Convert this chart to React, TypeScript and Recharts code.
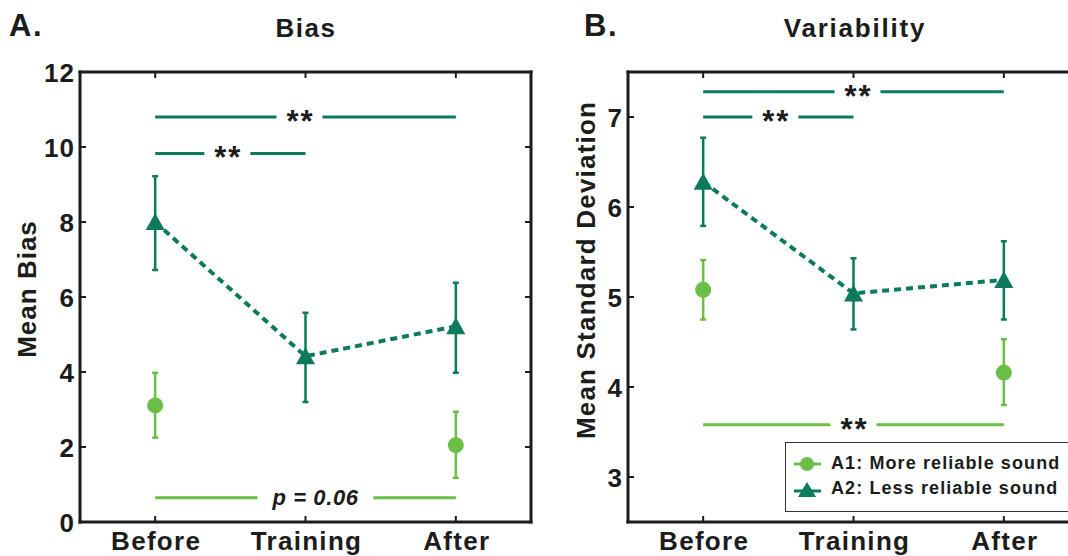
import { LineChart, Line, XAxis, YAxis, ErrorBar, ReferenceLine, Legend } from 'recharts'

const FONT = '"Liberation Sans", Arial, Helvetica, sans-serif'
const DARK = '#0b7a5d'
const LIGHT = '#6bbf46'
const INK = '#1c1c1c'

const phases = ['Before', 'Training', 'After']
const phaseX = [1, 2, 3]

// A. Bias
const biasA2 = [8.0, 4.42, 5.22]
const biasA2Lo = [6.72, 3.2, 3.98]
const biasA2Hi = [9.22, 5.58, 6.38]
const biasA1X = [1, 3]
const biasA1 = [3.11, 2.05]
const biasA1Lo = [2.25, 1.18]
const biasA1Hi = [3.98, 2.94]
const biasTicks = [0, 2, 4, 6, 8, 10, 12]
const biasMarks = [
  { from: 1, to: 3, y: 10.8, text: '**', group: 'A2' },
  { from: 1, to: 2, y: 9.83, text: '**', group: 'A2' },
  { from: 1, to: 3, y: 0.65, text: 'p = 0.06', group: 'A1' },
]

// B. Variability
const sdA2 = [6.28, 5.04, 5.19]
const sdA2Lo = [5.79, 4.64, 4.75]
const sdA2Hi = [6.77, 5.43, 5.62]
const sdA1X = [1, 3]
const sdA1 = [5.08, 4.16]
const sdA1Lo = [4.75, 3.8]
const sdA1Hi = [5.41, 4.53]
const sdTicks = [3, 4, 5, 6, 7]
const sdMarks = [
  { from: 1, to: 3, y: 7.28, text: '**', group: 'A2' },
  { from: 1, to: 2, y: 7.0, text: '**', group: 'A2' },
  { from: 1, to: 3, y: 3.58, text: '**', group: 'A1' },
]

const seriesNames = ['A1: More reliable sound', 'A2: Less reliable sound']

// little nudges so the gap sits where the original has it
const biasGapShift = [-6, -3, 10]
const sdGapShift = [4, -3, 0]

function rows(xs: number[], v: number[], lo: number[], hi: number[]) {
  return xs.map((x, i) => ({ x, v: v[i], err: [v[i] - lo[i], hi[i] - v[i]] }))
}

const txt = { fontFamily: FONT, fontWeight: 700, fill: INK } as const

function Tri(props: any) {
  const { cx, cy } = props
  if (cx == null || cy == null) return null
  return <polygon points={`${cx},${cy - 9} ${cx - 9.5},${cy + 8} ${cx + 9.5},${cy + 8}`} fill={DARK} />
}

function Dot(props: any) {
  const { cx, cy } = props
  if (cx == null || cy == null) return null
  return <circle cx={cx} cy={cy} r={8} fill={LIGHT} />
}

function XTick({ x, y, payload }: any) {
  return (
    <g>
      <line x1={x} y1={y} x2={x} y2={y - 6} stroke={INK} strokeWidth={2} />
      <text x={x + 1} y={y + 28} textAnchor="middle" fontSize={26} letterSpacing={1.3} {...txt}>
        {phases[payload.value - 1]}
      </text>
    </g>
  )
}

function TopTick({ x, y }: any) {
  return <line x1={x} y1={y} x2={x} y2={y + 6} stroke={INK} strokeWidth={2} />
}

function YTick({ x, y, payload }: any) {
  return (
    <g>
      <line x1={x} y1={y} x2={x + 6} y2={y} stroke={INK} strokeWidth={2} />
      <text x={x - 5} y={y + 9.5} textAnchor="end" fontSize={26} letterSpacing={1} {...txt}>
        {payload.value}
      </text>
    </g>
  )
}

function RightTick({ x, y }: any) {
  return <line x1={x} y1={y} x2={x - 6} y2={y} stroke={INK} strokeWidth={2} />
}

function GapLabel(props: any) {
  const { viewBox, text, shift = 0 } = props
  if (!viewBox) return null
  const cx = viewBox.x + viewBox.width / 2 + shift
  const cy = viewBox.y
  const star = text === '**'
  const gap = star ? 46 : 116
  return (
    <g>
      <rect x={cx - gap / 2} y={cy - 4} width={gap} height={8} fill="#fff" />
      {star ? (
        <text x={cx + 1} y={cy + 15} textAnchor="middle" fontSize={31} letterSpacing={2} {...txt}>**</text>
      ) : (
        <text x={cx} y={cy + 7} textAnchor="middle" fontSize={22} fontStyle="italic" letterSpacing={0.6} {...txt}>{text}</text>
      )}
    </g>
  )
}

function KeyBox() {
  const row = { display: 'flex', alignItems: 'center', height: 25 } as const
  return (
    <div style={{
      border: '1.5px solid #333', background: '#fff', boxSizing: 'border-box', width: 330, height: 70,
      paddingTop: 8, paddingLeft: 7, fontFamily: FONT, fontWeight: 700, fontSize: 18, letterSpacing: 1.1, color: INK,
    }}>
      <div style={row}>
        <svg width={38} height={22}>
          <line x1={1} y1={11} x2={28} y2={11} stroke={LIGHT} strokeWidth={3} />
          <circle cx={14} cy={11} r={7} fill={LIGHT} />
        </svg>
        <span>{seriesNames[0]}</span>
      </div>
      <div style={row}>
        <svg width={38} height={22}>
          <line x1={1} y1={13} x2={28} y2={13} stroke={DARK} strokeWidth={3} />
          <polygon points="14,4 5,19 23,19" fill={DARK} />
        </svg>
        <span>{seriesNames[1]}</span>
      </div>
    </div>
  )
}

const frame = { stroke: INK, strokeWidth: 3, strokeLinecap: 'square' as const }

function Panel(props: {
  width: number; yWidth: number; right: number; domain: [number, number]; ticks: number[]
  a2: any[]; a1: any[]; marks: typeof biasMarks; shifts: number[]; legend?: boolean
}) {
  const { width, yWidth, right, domain, ticks, a2, a1, marks, shifts, legend } = props
  return (
    <LineChart width={width} height={556} margin={{ top: 71, right, bottom: 0, left: 0 }}>
      <XAxis xAxisId="b" dataKey="x" type="number" domain={[0.5, 3.5]} ticks={phaseX} height={34}
        tickSize={0} tickMargin={0} tickLine={false} axisLine={frame} tick={<XTick />} allowDataOverflow />
      <XAxis xAxisId="t" orientation="top" dataKey="x" type="number" domain={[0.5, 3.5]} ticks={phaseX} height={1}
        tickSize={0} tickMargin={0} tickLine={false} axisLine={frame} tick={<TopTick />} allowDataOverflow />
      <YAxis yAxisId="l" type="number" domain={domain} ticks={ticks} width={yWidth}
        tickSize={0} tickMargin={0} tickLine={false} axisLine={frame} tick={<YTick />} allowDataOverflow />
      <YAxis yAxisId="r" orientation="right" type="number" domain={domain} ticks={ticks} width={1}
        tickSize={0} tickMargin={0} tickLine={false} axisLine={frame} tick={<RightTick />} allowDataOverflow />
      {marks.map((m, i) => (
        <ReferenceLine key={i} xAxisId="b" yAxisId="l"
          segment={[{ x: m.from, y: m.y }, { x: m.to, y: m.y }]}
          stroke={m.group === 'A1' ? LIGHT : DARK} strokeWidth={3}
          label={<GapLabel text={m.text} shift={shifts[i]} />} />
      ))}
      {/* invisible series on the frame axes so they get drawn */}
      <Line xAxisId="t" yAxisId="r" data={a2} dataKey="v" stroke="none" dot={false} activeDot={false}
        isAnimationActive={false} legendType="none" />
      <Line xAxisId="b" yAxisId="l" data={a2} dataKey="v" stroke={DARK} strokeWidth={4} strokeDasharray="7 5"
        dot={<Tri />} activeDot={false} isAnimationActive={false}>
        <ErrorBar dataKey="err" direction="y" width={3} stroke={DARK} strokeWidth={2.5} />
      </Line>
      <Line xAxisId="b" yAxisId="l" data={a1} dataKey="v" stroke="none"
        dot={<Dot />} activeDot={false} isAnimationActive={false}>
        <ErrorBar dataKey="err" direction="y" width={3} stroke={LIGHT} strokeWidth={2.5} />
      </Line>
      {legend && (
        <Legend layout="vertical" align="center" verticalAlign="middle" content={<KeyBox />}
          wrapperStyle={{ left: 245, top: 442, width: 330, height: 70 }} />
      )}
    </LineChart>
  )
}

export default function App() {
  return (
    <div style={{ position: 'fixed', left: 0, top: 0, width: 1068, height: 556, overflow: 'hidden', background: '#fff' }}>
      <div style={{ position: 'absolute', left: 0, top: 0 }}>
        <Panel width={540} yWidth={80} right={8} domain={[0, 12]} ticks={biasTicks}
          a2={rows(phaseX, biasA2, biasA2Lo, biasA2Hi)} a1={rows(biasA1X, biasA1, biasA1Lo, biasA1Hi)}
          marks={biasMarks} shifts={biasGapShift} />
      </div>
      <div style={{ position: 'absolute', left: 540, top: 0 }}>
        <Panel width={550} yWidth={88} right={10} domain={[2.5, 7.5]} ticks={sdTicks}
          a2={rows(phaseX, sdA2, sdA2Lo, sdA2Hi)} a1={rows(sdA1X, sdA1, sdA1Lo, sdA1Hi)}
          marks={sdMarks} shifts={sdGapShift} legend />
      </div>
      <svg width={1068} height={556} style={{ position: 'absolute', left: 0, top: 0, pointerEvents: 'none' }}>
        <text x={9} y={36} fontSize={31} letterSpacing={1.5} {...txt}>A.</text>
        <text x={306} y={37} textAnchor="middle" fontSize={26} letterSpacing={1.5} {...txt}>Bias</text>
        <text x={584} y={36} fontSize={31} letterSpacing={1.5} {...txt}>B.</text>
        <text x={855} y={37} textAnchor="middle" fontSize={26} letterSpacing={1.8} {...txt}>Variability</text>
        <text transform="translate(36,289) rotate(-90)" textAnchor="middle" fontSize={26} letterSpacing={1} {...txt}>Mean Bias</text>
        <text transform="translate(595,270) rotate(-90)" textAnchor="middle" fontSize={26} letterSpacing={1.2} {...txt}>Mean Standard Deviation</text>
      </svg>
    </div>
  )
}
